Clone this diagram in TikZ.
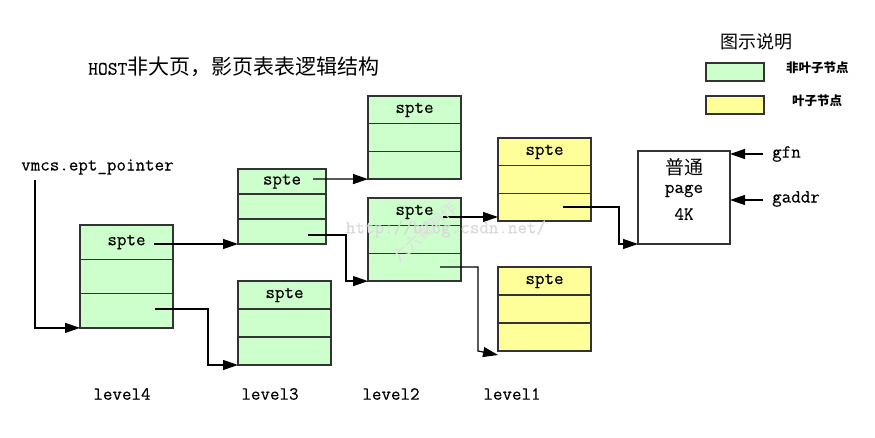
\documentclass[tikz,border=0pt]{standalone}
\usepackage{fontspec}
\setmainfont{Latin Modern Mono}[FakeBold=0.4]
\newfontfamily\cjk{Noto Sans CJK SC}
\usetikzlibrary{arrows.meta,calc}
\definecolor{nonleaf}{HTML}{CCFFCC}
\definecolor{leaf}{HTML}{FFFF99}
\definecolor{boxline}{HTML}{333333}
\tikzset{
  row/.style={draw=boxline, line width=1.2pt, minimum width=93, inner sep=0, outer sep=0, anchor=north west, font=\fontsize{18.5}{20}\selectfont},
  green/.style={row, fill=nonleaf},
  yellow/.style={row, fill=leaf},
  arr/.style={draw=black, line width=1.2pt, -{Triangle[length=15pt,width=10pt]}},
  lbl/.style={inner sep=0, font=\fontsize{18.5}{20}\selectfont},
}
\begin{document}
\begin{tikzpicture}[x=1pt,y=-1pt]
\useasboundingbox (0,0) rectangle (875,438);
% title
\node[anchor=west, inner sep=0] (title) at (88,67) {{\fontsize{19}{21}\selectfont HOST}{\cjk\fontsize{21}{23}\selectfont 非大页，影页表表逻辑结构}};
% legend
\node[inner sep=0, font=\cjk\fontsize{18}{20}\selectfont] (legt) at (756,42) {图示说明};
\node[draw=boxline, line width=1.2pt, fill=nonleaf, minimum width=58, minimum height=18, anchor=north west, inner sep=0, outer sep=0] (lg1) at (706,63) {};
\node[draw=boxline, line width=1.2pt, fill=leaf, minimum width=58, minimum height=18, anchor=north west, inner sep=0, outer sep=0] (lg2) at (706,96) {};
\node[anchor=west, inner sep=0, font=\cjk\bfseries\fontsize{12.5}{14}\selectfont] (lgt1) at (786,68) {非叶子节点};
\node[anchor=west, inner sep=0, font=\cjk\bfseries\fontsize{12.5}{14}\selectfont] (lgt2) at (792,101) {叶子节点};
% level4
\node[green, minimum height=34.3] (A1) at (80,225) {spte};
\node[green, minimum height=34.3] (A2) at (A1.south west) {};
\node[green, minimum height=34.3] (A3) at (A2.south west) {};
% level3 upper
\node[green, minimum width=88, minimum height=25] (B1) at (238,169) {spte};
\node[green, minimum width=88, minimum height=25] (B2) at (B1.south west) {};
\node[green, minimum width=88, minimum height=25] (B3) at (B2.south west) {};
% level3 lower
\node[green, minimum height=28] (C1) at (238,281) {spte};
\node[green, minimum height=28] (C2) at (C1.south west) {};
\node[green, minimum height=28] (C3) at (C2.south west) {};
% level2 upper
\node[green, minimum height=27.7] (D1) at (368,96) {spte};
\node[green, minimum height=27.7] (D2) at (D1.south west) {};
\node[green, minimum height=27.7] (D3) at (D2.south west) {};
% level2 lower
\node[green, minimum height=27.7] (E1) at (368,198) {spte};
\node[green, minimum height=27.7] (E2) at (E1.south west) {};
\node[green, minimum height=27.7] (E3) at (E2.south west) {};
% level1 upper
\node[yellow, minimum height=27.7] (F1) at (498,138) {spte};
\node[yellow, minimum height=27.7] (F2) at (F1.south west) {};
\node[yellow, minimum height=27.7] (F3) at (F2.south west) {};
% level1 lower
\node[yellow, minimum height=28] (G1) at (498,267) {spte};
\node[yellow, minimum height=28] (G2) at (G1.south west) {};
\node[yellow, minimum height=28] (G3) at (G2.south west) {};
% page
\node[draw=boxline, line width=1.2pt, fill=white, minimum width=92, minimum height=93, anchor=north west, inner sep=0, outer sep=0] (page) at (638,151) {};
\node[inner sep=0, font=\cjk\fontsize{19}{21}\selectfont] (pg1) at (684,167) {普通};
\node[lbl] (pg2) at (684,191) {page};
\node[lbl] (pg3) at (684,214) {4K};
% labels
\node[lbl, anchor=west] (vmcs) at (21,167) {vmcs.ept\_pointer};
\node[lbl, anchor=west] (gfn) at (772,154) {gfn};
\node[lbl, anchor=west] (gaddr) at (772,199) {gaddr};
\node[lbl] (lv4) at (122,394) {level4};
\node[lbl] (lv3) at (270,394) {level3};
\node[lbl] (lv2) at (391,394) {level2};
\node[lbl] (lv1) at (512,394) {level1};
% connector start points
\coordinate (v0) at (35,180);
\coordinate (s1) at (154,244);
\coordinate (s2) at (155,309);
\coordinate (s3) at (313,179);
\coordinate (s4) at (308,235);
\coordinate (s5) at (443,217);
\coordinate (s6) at (440,267);
\coordinate (s7) at (563,207);
\coordinate (g1) at (763,154);
\coordinate (g2) at (763,200);
% connectors
\draw[arr] (v0) |- (A3.south west);
\draw[arr] (s1) -- (B3.south west);
\draw[arr] (s2) -| ([xshift=-30pt]C3.south west) -- (C3.south west);
\draw[arr] (s3) -- (D3.south west);
\draw[arr] (s4) -| ([xshift=-22pt]E3.south west) -- (E3.south west);
\draw[arr] (s5) -- (s5 -| F3.west);
\draw[arr] (s6) -| ([xshift=-20pt]G3.south west) -- ([yshift=-4pt]G3.south west);
\draw[arr] (s7) -| ([xshift=-19pt]page.south west) -- (page.south west);
\draw[arr] (g1) -- (g1 -| page.east);
\draw[arr] (g2) -- (g2 -| page.east);
% watermark
\node[inner sep=0, text=gray!30, font=\fontsize{18.5}{20}\selectfont] (wm1) at (446,229) {http://blog.csdn.net/};
\node[inner sep=0, text=gray!25, rotate=42, font=\cjk\fontsize{16}{18}\selectfont] (wm2) at (425,232) {六六哥制作};
\end{tikzpicture}
\end{document}
